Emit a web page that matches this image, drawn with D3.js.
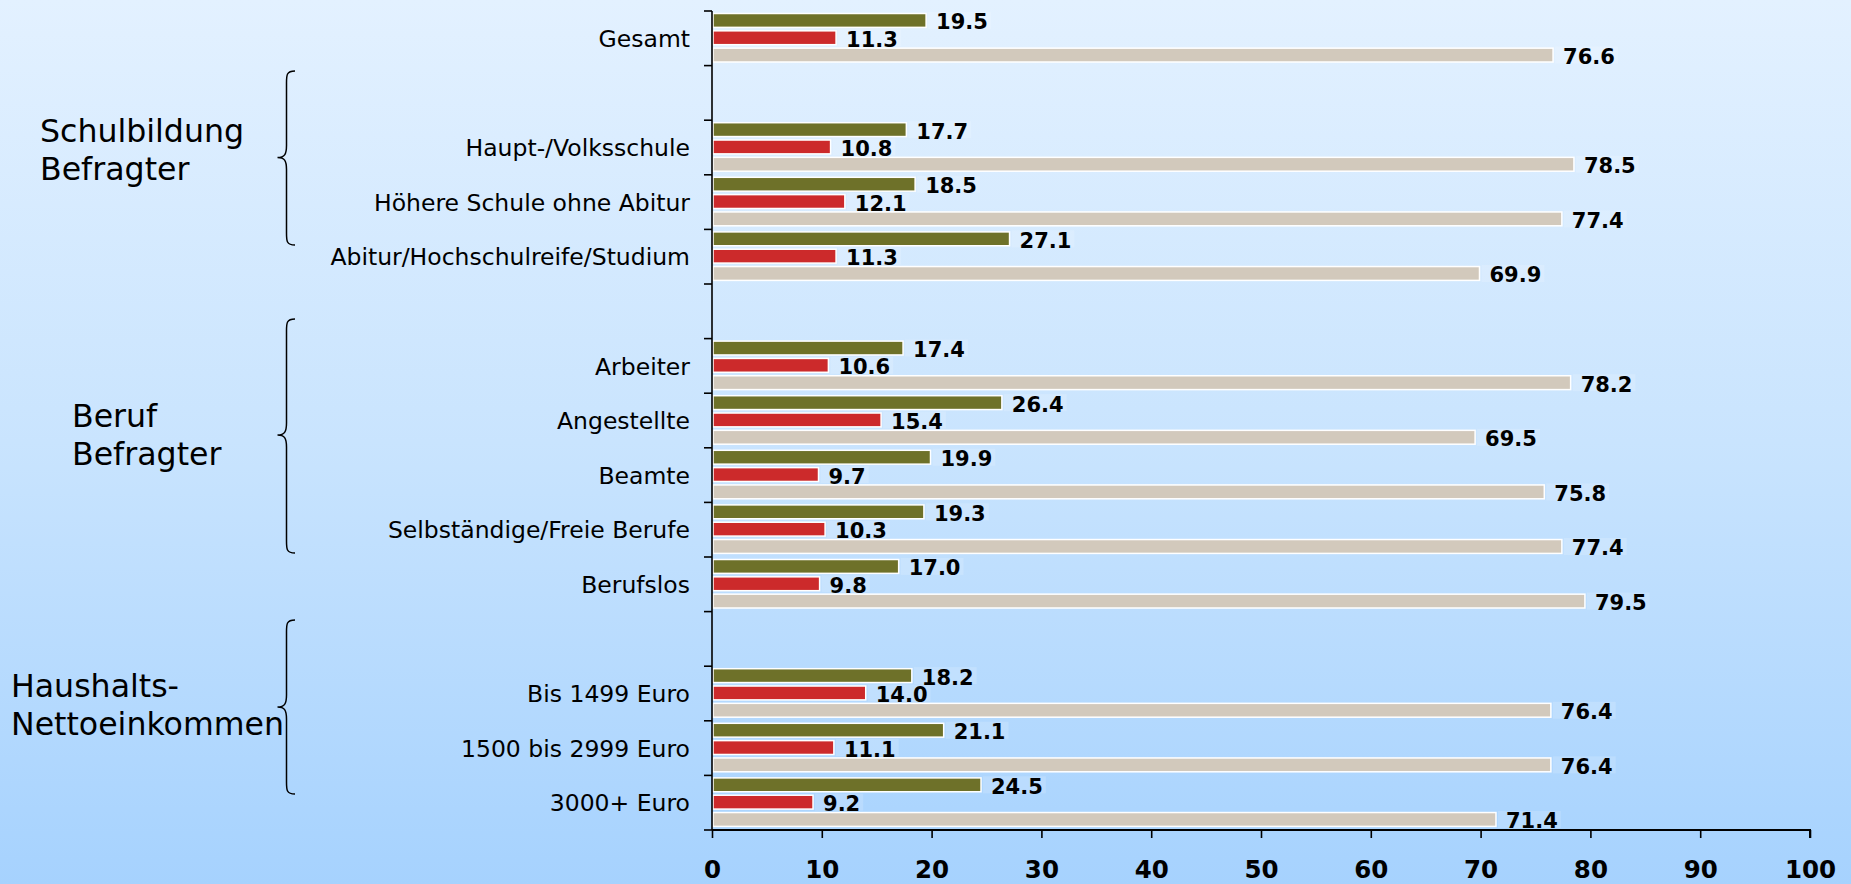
<!DOCTYPE html>
<html><head><meta charset="utf-8">
<script src="https://cdn.jsdelivr.net/npm/d3@7"></script>
<style>html,body{margin:0;padding:0;overflow:hidden}svg{display:block}</style>
</head><body>
<svg id="chart" width="1851" height="884"></svg>
<script>
// ---- data ----
const categories = ["Gesamt", "", "Haupt-/Volksschule", "Höhere Schule ohne Abitur",
  "Abitur/Hochschulreife/Studium", "", "Arbeiter", "Angestellte", "Beamte",
  "Selbständige/Freie Berufe", "Berufslos", "", "Bis 1499 Euro", "1500 bis 2999 Euro", "3000+ Euro"];
const seriesOlive = [19.5, null, 17.7, 18.5, 27.1, null, 17.4, 26.4, 19.9, 19.3, 17.0, null, 18.2, 21.1, 24.5];
const seriesRed   = [11.3, null, 10.8, 12.1, 11.3, null, 10.6, 15.4, 9.7, 10.3, 9.8, null, 14.0, 11.1, 9.2];
const seriesBeige = [76.6, null, 78.5, 77.4, 69.9, null, 78.2, 69.5, 75.8, 77.4, 79.5, null, 76.4, 76.4, 71.4];
const xTicks = [0, 10, 20, 30, 40, 50, 60, 70, 80, 90, 100];
const groupLabels = [["Schulbildung", "Befragter"], ["Beruf", "Befragter"], ["Haushalts-", "Nettoeinkommen"]];

// ---- layout ----
const W = 1851, H = 884;
const L = {x0: 712, x1: 1810, y0: 11, y1: 830};
const colors = ["#6e7129", "#cc2a2b", "#d2c9bc"];
const groupLayout = [
  {tx: 40, ty: 141.7, top: 71, tip: 157.5, bottom: 245},
  {tx: 72, ty: 426.7, top: 319, tip: 435, bottom: 553},
  {tx: 11, ty: 696.7, top: 620, tip: 707, bottom: 794}
];

const svg = d3.select("#chart");
const defs = svg.append("defs");
const grad = defs.append("linearGradient").attr("id", "bg").attr("x1", 0).attr("y1", 0).attr("x2", 0).attr("y2", 1);
grad.append("stop").attr("offset", "0%").attr("stop-color", "#e3f1ff");
grad.append("stop").attr("offset", "50%").attr("stop-color", "#c9e4fe");
grad.append("stop").attr("offset", "100%").attr("stop-color", "#a6d2fe");
svg.append("rect").attr("width", W).attr("height", H).attr("fill", "url(#bg)");

const x = d3.scaleLinear().domain([0, 100]).range([L.x0, L.x1]);
const idx = categories.map((c, i) => i);
const y = d3.scaleBand().domain(idx).range([L.y0, L.y1]).padding(0);
const sub = d3.scaleBand().domain([0, 1, 2]).range([2.5, y.bandwidth() - 3.6]).paddingInner(0.2);

const series = [seriesOlive, seriesRed, seriesBeige];
const gBars = svg.append("g");
const gBoxes = svg.append("g");
const gLabels = svg.append("g");

series.forEach((vals, s) => {
  vals.forEach((v, i) => {
    if (v == null) return;
    const yy = y(i) + sub(s);
    gBars.append("rect")
      .attr("x", x(0) + 1).attr("y", yy)
      .attr("width", x(v) - x(0) - 1).attr("height", sub.bandwidth())
      .attr("fill", colors[s]).attr("stroke", "#ffffff").attr("stroke-width", 1.5);
  });
});
series.forEach((vals, s) => {
  vals.forEach((v, i) => {
    if (v == null) return;
    const cy = y(i) + sub(s) + sub.bandwidth() / 2;
    const t = gLabels.append("text")
      .attr("x", x(v) + 10).attr("y", cy + 9)
      .attr("font-family", "DejaVu Sans").attr("font-weight", "bold").attr("font-size", 21)
      .attr("fill", "#000").text(v.toFixed(1));
    const bb = t.node().getBBox();
    gBoxes.append("rect").attr("x", x(v) + 2).attr("y", cy - 8.5)
      .attr("width", bb.x + bb.width + 3 - (x(v) + 2)).attr("height", 17)
      .attr("fill", "#ffffff").attr("fill-opacity", 0.16);
  });
});

// category labels
svg.append("g").selectAll("text").data(idx).join("text")
  .attr("x", 690).attr("y", i => y(i) + y.bandwidth() / 2 + 8.7)
  .attr("text-anchor", "end")
  .attr("font-family", "DejaVu Sans").attr("font-size", 23.5).attr("fill", "#000")
  .text(i => categories[i]);

// y axis
const ga = svg.append("g").attr("stroke", "#000").attr("fill", "none");
ga.append("line").attr("x1", L.x0).attr("x2", L.x0).attr("y1", L.y0).attr("y2", L.y1).attr("stroke-width", 1.6);
const bounds = idx.map(i => y(i)).concat([L.y1]);
ga.selectAll("line.yt").data(bounds).join("line").attr("class", "yt")
  .attr("x1", L.x0 - 8).attr("x2", L.x0).attr("y1", d => d).attr("y2", d => d).attr("stroke-width", 1.6);

// x axis
const xAxis = d3.axisBottom(x).tickValues(xTicks).tickSize(8).tickPadding(20).tickFormat(d3.format("d"));
const gx = svg.append("g").attr("transform", `translate(0,${L.y1})`).call(xAxis);
gx.select(".domain").attr("stroke", "#000").attr("stroke-width", 2).attr("d", `M${L.x0},0H${L.x1}V8`);
gx.selectAll(".tick line").attr("stroke", "#000").attr("stroke-width", 1.6);
gx.selectAll(".tick text").attr("font-family", "DejaVu Sans").attr("font-weight", "bold")
  .attr("font-size", 24.5).attr("fill", "#000").attr("dy", null).attr("y", 48);

// group labels and braces
groupLabels.forEach((lines, g) => {
  const gl = groupLayout[g];
  lines.forEach((ln, k) => {
    svg.append("text").attr("x", gl.tx).attr("y", gl.ty + k * 37.8)
      .attr("font-family", "DejaVu Sans").attr("font-size", 31.6).attr("fill", "#000").text(ln);
  });
  const xe = 295, xs = 286.5, xt = 277.5, r = 12;
  const p = `M${xe},${gl.top} C${xs},${gl.top} ${xs},${gl.top + 4} ${xs},${gl.top + r}
    L${xs},${gl.tip - r} C${xs},${gl.tip - 3} ${xs - 2},${gl.tip} ${xt},${gl.tip}
    C${xs - 2},${gl.tip} ${xs},${gl.tip + 3} ${xs},${gl.tip + r}
    L${xs},${gl.bottom - r} C${xs},${gl.bottom - 4} ${xs},${gl.bottom} ${xe},${gl.bottom}`;
  svg.append("path").attr("d", p).attr("fill", "none").attr("stroke", "#000").attr("stroke-width", 1.5);
});
</script>
</body></html>
